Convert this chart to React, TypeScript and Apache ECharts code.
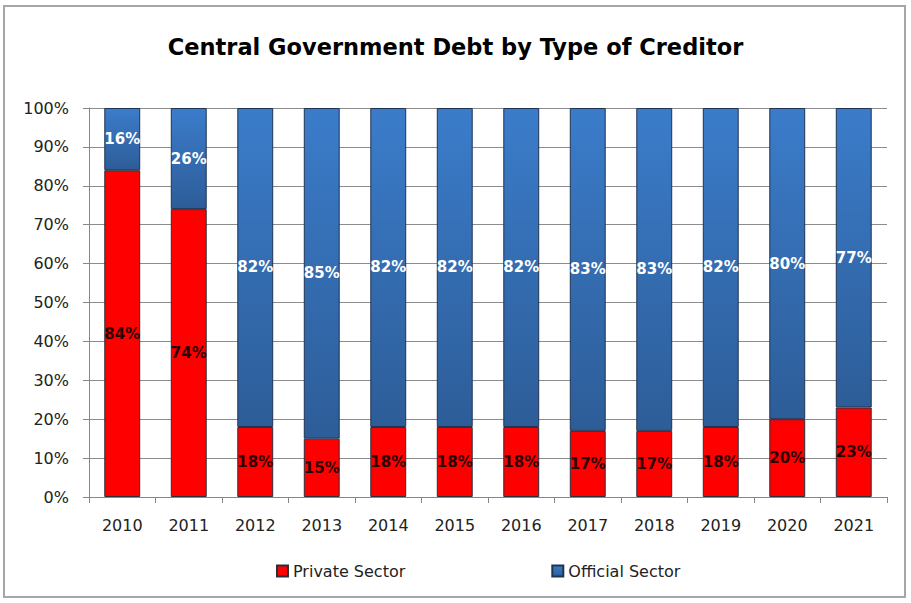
import React, { useEffect, useRef } from "react";
import * as echarts from "echarts";

const years = ["2010", "2011", "2012", "2013", "2014", "2015", "2016", "2017", "2018", "2019", "2020", "2021"];
const privateSector = [84, 74, 18, 15, 18, 18, 18, 17, 17, 18, 20, 23];
const officialSector = [16, 26, 82, 85, 82, 82, 82, 83, 83, 82, 80, 77];

const FONT = "'DejaVu Sans', 'Open Sans', sans-serif";

export default function App() {
  const ref = useRef<HTMLDivElement>(null);

  useEffect(() => {
    document.body.style.margin = "0";
    const chart = echarts.init(ref.current!, null, { renderer: "svg" });
    const blue = new echarts.graphic.LinearGradient(0, 0, 0, 1, [
      { offset: 0, color: "#3b7cca" },
      { offset: 1, color: "#2d5d98" },
    ]);
    chart.setOption({
      animation: false,
      backgroundColor: "#ffffff",
      title: {
        text: "Central Government Debt by Type of Creditor",
        left: "center",
        top: 30,
        textStyle: { fontFamily: FONT, fontSize: 22.5, fontWeight: "bold", color: "#000" },
      },
      graphic: [
        {
          type: "rect",
          shape: { x: 4, y: 6, width: 901, height: 591 },
          style: { fill: "none", stroke: "#a6a6a6", lineWidth: 2 },
          silent: true,
        },
      ],
      legend: {
        bottom: 19,
        left: 271,
        itemGap: 146,
        itemWidth: 11,
        itemHeight: 11,
        icon: "rect",
        textStyle: { fontFamily: FONT, fontSize: 16, color: "#222" },
        data: ["Private Sector", "Official Sector"],
      },
      grid: { left: 89, right: 24, top: 108, bottom: 106 },
      xAxis: {
        type: "category",
        data: years,
        axisLine: { lineStyle: { color: "#868686", width: 1 } },
        axisTick: { show: true, length: 6, lineStyle: { color: "#868686" } },
        axisLabel: { fontFamily: FONT, fontSize: 16, color: "#222", margin: 20 },
      },
      yAxis: {
        type: "value",
        min: 0,
        max: 100,
        interval: 10,
        axisLine: { show: true, lineStyle: { color: "#868686" } },
        axisTick: { show: true, length: 6, lineStyle: { color: "#868686" } },
        splitLine: { lineStyle: { color: "#8c8c8c", width: 1 } },
        axisLabel: { fontFamily: FONT, fontSize: 16, color: "#222", formatter: "{value}%", margin: 20 },
      },
      series: [
        {
          name: "Private Sector",
          type: "bar",
          stack: "total",
          barWidth: "54%",
          data: privateSector,
          itemStyle: { color: "#ff0000", borderColor: "#2a2f3a", borderWidth: 1 },
          label: {
            show: true,
            position: "inside",
            formatter: "{c}%",
            fontFamily: FONT,
            fontSize: 15,
            fontWeight: "bold",
            color: "#2a0000",
          },
        },
        {
          name: "Official Sector",
          type: "bar",
          stack: "total",
          barWidth: "54%",
          data: officialSector,
          itemStyle: { color: blue, borderColor: "#1f3352", borderWidth: 1 },
          label: {
            show: true,
            position: "inside",
            formatter: "{c}%",
            fontFamily: FONT,
            fontSize: 15,
            fontWeight: "bold",
            color: "#ffffff",
          },
        },
      ],
    });
    return () => chart.dispose();
  }, []);

  return <div ref={ref} style={{ width: 911, height: 603 }} />;
}
